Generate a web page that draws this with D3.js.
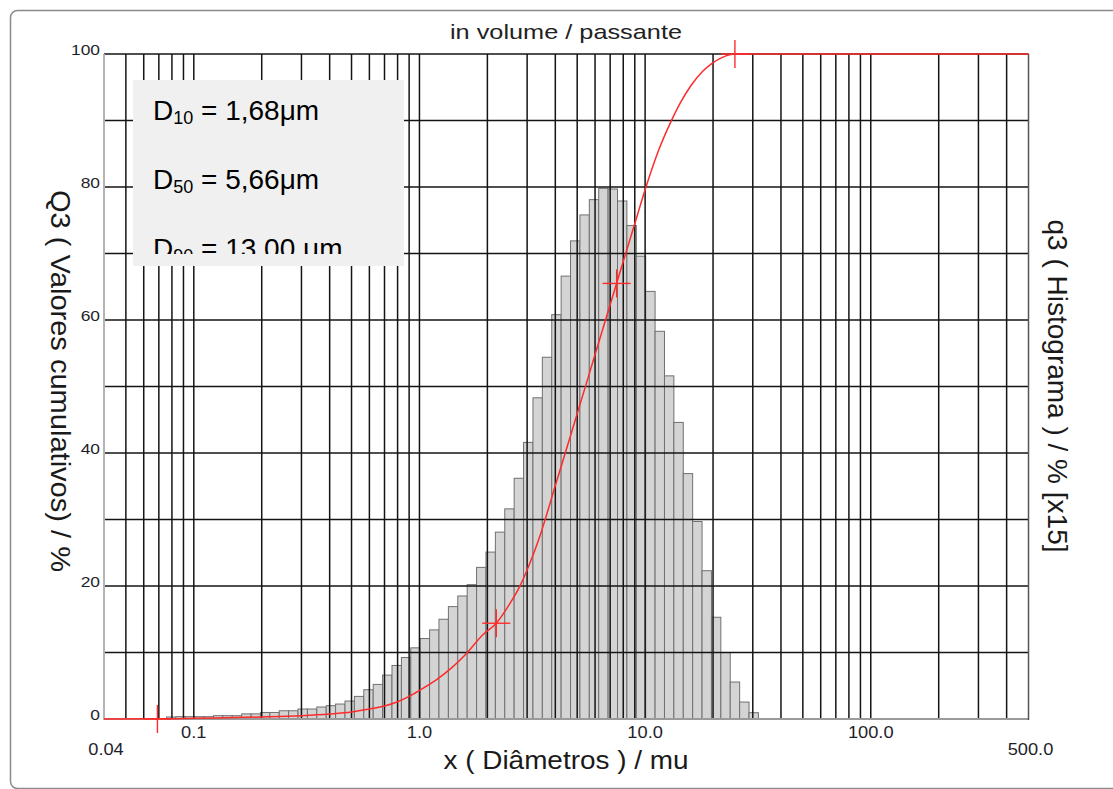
<!DOCTYPE html>
<html>
<head>
<meta charset="utf-8">
<script src="https://cdn.jsdelivr.net/npm/d3@7"></script>
<style>
  body { margin: 0; background: #fff; }
  svg { display: block; }
  text { font-family: "Liberation Sans", Arial, Helvetica, sans-serif; }
</style>
</head>
<body>
<svg id="chart" width="1113" height="789"></svg>
<script>
// Size classes (µm): lower/upper edges of each histogram bar
const binEdges = [
  0.0757, 0.0833, 0.0917, 0.1009, 0.1111, 0.1223, 0.1345, 0.1481, 0.1630, 0.1794,
  0.1974, 0.2173, 0.2391, 0.2632, 0.2897, 0.3188, 0.3509, 0.3862, 0.4250, 0.4678,
  0.5148, 0.5667, 0.6237, 0.6864, 0.7555, 0.8318, 0.9155, 1.0076, 1.1090, 1.2205,
  1.3434, 1.4785, 1.6273, 1.7910, 1.9712, 2.1696, 2.3878, 2.6280, 2.8926, 3.1836,
  3.5039, 3.8565, 4.2445, 4.6714, 5.1417, 5.6589, 6.2282, 6.8548, 7.5446, 8.3041,
  9.1393, 10.058, 11.071, 12.185, 13.410, 14.761, 16.244, 17.878, 19.679, 21.658,
  23.836, 26.238, 28.874, 31.77
];

// q3 histogram heights (% x15), one per class
const binHeights = [
  0.30, 0.35, 0.35, 0.35, 0.35, 0.50, 0.50, 0.50, 0.77, 0.77,
  0.98, 0.98, 1.24, 1.24, 1.50, 1.50, 1.80, 2.00, 2.25, 2.70,
  3.40, 4.40, 5.20, 6.60, 8.05, 9.25, 10.7, 12.1, 13.4, 15.0,
  16.9, 18.5, 20.2, 22.8, 25.1, 28.1, 31.6, 36.2, 41.6, 48.3,
  54.4, 60.8, 66.6, 71.9, 75.8, 78.1, 79.8, 79.7, 77.9, 74.2,
  69.6, 64.3, 58.3, 51.6, 44.6, 36.9, 29.7, 22.3, 15.3, 10.0,
  5.56, 2.55, 0.95
];

// Q3 cumulative passing curve
const cumDiameters = [0.04, 0.07, 0.1, 0.2, 0.3, 0.4, 0.5, 0.6, 0.7, 0.8, 0.9, 1.0, 1.2, 1.4, 1.6,
  1.9, 2.19, 2.5, 2.78, 3.1, 3.41, 4.0, 5.0, 6.0, 7.0, 8.0, 9.0, 10.0, 11.5, 13.0, 14.3,
  16.0, 18.0, 19.8, 22.0, 25.0, 500];
const cumPassing = [0, 0.02, 0.1, 0.3, 0.5, 0.75, 1.05, 1.5, 1.95, 2.6, 3.4, 4.3, 6.0, 7.8, 9.7,
  12.6, 14.4, 17.2, 19.9, 23.6, 27.4, 35.1, 45.9, 54.8, 62.3, 68.8, 74.5, 79.6, 85.6, 89.8, 92.6,
  95.3, 97.4, 98.6, 99.5, 100, 100];

// Cross markers on the cumulative curve
const markerDiameters = [0.069, 2.19, 7.48, 25];
const markerPassing = [0, 14.4, 65.5, 100];

// Axis ticks
const xTickValues = [0.1, 1, 10, 100];
const xTickLabels = ["0.1", "1.0", "10.0", "100.0"];
const xEndValues = [0.04, 500];
const xEndLabels = ["0.04", "500.0"];
const yTickValues = [0, 20, 40, 60, 80, 100];

// Characteristic diameters
const statSubs = ["10", "50", "90"];
const statTexts = [" = 1,68\u03bcm", " = 5,66\u03bcm", " = 13,00 \u03bcm"];

const svg = d3.select("#chart");

// widen a text element horizontally (the plot font runs wide)
function widen(sel, factor) {
  sel.each(function () {
    const w = this.getComputedTextLength();
    d3.select(this).attr("textLength", w * factor).attr("lengthAdjust", "spacingAndGlyphs");
  });
}

// outer rounded frame
svg.append("rect")
  .attr("x", 10.5).attr("y", 10.5)
  .attr("width", 1120).attr("height", 778)
  .attr("rx", 7)
  .attr("fill", "none").attr("stroke", "#8a8a8a").attr("stroke-width", 1.5);

const x = d3.scaleLog().domain([0.04, 500]).range([104, 1028.5]);
const y = d3.scaleLinear().domain([0, 100]).range([719, 54]);

// histogram bars
const bars = binHeights.map((h, i) => ({ x0: binEdges[i], x1: binEdges[i + 1], h }));
svg.append("g").selectAll("rect").data(bars).join("rect")
  .attr("x", d => x(d.x0))
  .attr("y", d => y(d.h))
  .attr("width", d => x(d.x1) - x(d.x0))
  .attr("height", d => y(0) - y(d.h))
  .attr("fill", "#d4d4d4")
  .attr("stroke", "#707070")
  .attr("stroke-width", 1);

// grid
const grid = svg.append("g").attr("stroke", "#141414").attr("stroke-width", 1.5);
const vTicks = x.ticks().filter(v => v > 0.0401 && v < 499);
grid.selectAll("line.v").data(vTicks).join("line").attr("class", "v")
  .attr("x1", d => x(d)).attr("x2", d => x(d))
  .attr("y1", y(100)).attr("y2", y(0) + 1);
grid.selectAll("line.h").data(d3.range(10, 101, 10)).join("line").attr("class", "h")
  .attr("x1", x(0.04)).attr("x2", x(500))
  .attr("y1", d => y(d)).attr("y2", d => y(d));

// plot borders
svg.append("line").attr("x1", x(0.04)).attr("x2", x(0.04)).attr("y1", y(100)).attr("y2", y(0) + 1)
  .attr("stroke", "#b4b4b4").attr("stroke-width", 2);
svg.append("line").attr("x1", x(0.04)).attr("x2", x(500)).attr("y1", y(0)).attr("y2", y(0))
  .attr("stroke", "#9a9a9a").attr("stroke-width", 2);
svg.append("line").attr("x1", x(500)).attr("x2", x(500)).attr("y1", y(100)).attr("y2", y(0) + 1)
  .attr("stroke", "#555").attr("stroke-width", 1.5);

// cumulative curve
const line = d3.line()
  .x((d, i) => x(cumDiameters[i]))
  .y(d => y(d))
  .curve(d3.curveMonotoneX);
svg.append("path").datum(cumPassing)
  .attr("d", line)
  .attr("fill", "none")
  .attr("stroke", "#ff2b2b")
  .attr("stroke-width", 1.5);

// cross markers
const marks = svg.append("g").attr("stroke", "#ff2b2b").attr("stroke-width", 1.4);
markerDiameters.forEach((dv, i) => {
  const cx = x(dv), cy = y(markerPassing[i]);
  marks.append("line").attr("x1", cx - 14).attr("x2", cx + 14).attr("y1", cy).attr("y2", cy);
  marks.append("line").attr("x1", cx).attr("x2", cx).attr("y1", cy - 14).attr("y2", cy + 14);
});

// tick labels
const tickColor = "#1e1e2a";
svg.append("g").selectAll("text").data(yTickValues).join("text")
  .attr("x", 100).attr("y", d => y(d) + 1)
  .attr("text-anchor", "end")
  .attr("font-size", 15)
  .attr("fill", tickColor)
  .text(d => d)
  .call(widen, 1.16);

svg.append("g").selectAll("text").data(xTickValues).join("text")
  .attr("x", d => x(d)).attr("y", 738)
  .attr("text-anchor", "middle")
  .attr("font-size", 16)
  .attr("fill", tickColor)
  .text((d, i) => xTickLabels[i])
  .call(widen, 1.14);

svg.append("g").selectAll("text").data(xEndValues).join("text")
  .attr("x", d => x(d) + 2).attr("y", 755)
  .attr("text-anchor", "middle")
  .attr("font-size", 16)
  .attr("fill", tickColor)
  .text((d, i) => xEndLabels[i])
  .call(widen, 1.14);

// titles
svg.append("text").attr("x", 566).attr("y", 39)
  .attr("text-anchor", "middle").attr("font-size", 21).attr("fill", "#222")
  .attr("textLength", 232).attr("lengthAdjust", "spacingAndGlyphs")
  .text("in volume / passante");

svg.append("text").attr("x", 566).attr("y", 769)
  .attr("text-anchor", "middle").attr("font-size", 25).attr("fill", "#1a1a1a")
  .attr("textLength", 245).attr("lengthAdjust", "spacingAndGlyphs")
  .text("x ( Diâmetros ) / mu");

svg.append("text")
  .attr("transform", "translate(51,381) rotate(90)")
  .attr("text-anchor", "middle").attr("font-size", 28).attr("fill", "#1a1a1a")
  .attr("textLength", 382).attr("lengthAdjust", "spacingAndGlyphs")
  .text("Q3 ( Valores cumulativos) / %");

svg.append("text")
  .attr("transform", "translate(1048,386) rotate(90)")
  .attr("text-anchor", "middle").attr("font-size", 28).attr("fill", "#1a1a1a")
  .attr("textLength", 333).attr("lengthAdjust", "spacingAndGlyphs")
  .text("q3 ( Histograma ) / % [x15]");

// statistics box
svg.append("rect").attr("x", 133).attr("y", 80).attr("width", 271).attr("height", 186)
  .attr("fill", "#f0f0f0");
svg.append("clipPath").attr("id", "statClip")
  .append("rect").attr("x", 133).attr("y", 80).attr("width", 271).attr("height", 174);
const statG = svg.append("g").attr("clip-path", "url(#statClip)");
statSubs.forEach((s, i) => {
  const t = statG.append("text").attr("x", 153).attr("y", 120 + i * 69)
    .attr("font-size", 28).attr("fill", "#000");
  t.append("tspan").text("D");
  t.append("tspan").attr("font-size", 18).attr("dy", 4).text(s);
  t.append("tspan").attr("dy", -4).text(statTexts[i]);
});
</script>
</body>
</html>
